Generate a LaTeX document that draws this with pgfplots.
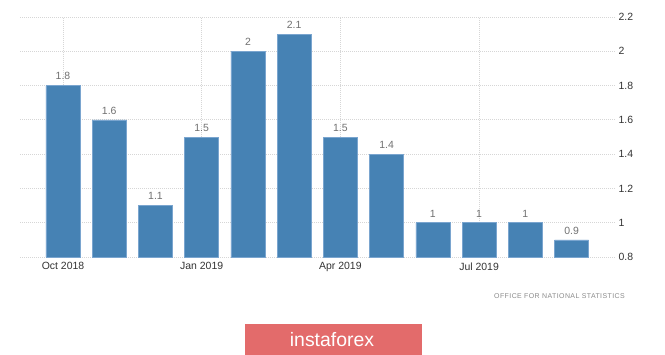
\documentclass[border=0pt]{standalone}
\usepackage{pgfplots}
\pgfplotsset{compat=1.18}
\usepackage{fontspec}
\setmainfont{Liberation Sans}
\definecolor{barblue}{HTML}{4682B4}
\definecolor{baredge}{HTML}{7AA5CF}
\definecolor{gridc}{HTML}{D6D6D6}
\definecolor{ticktext}{HTML}{333333}
\definecolor{labeltext}{HTML}{707070}
\definecolor{srctext}{HTML}{8A8A8A}
\definecolor{logored}{HTML}{E36B6B}
\begin{document}
\begin{tikzpicture}
\useasboundingbox (0bp,0bp) rectangle (665bp,-355bp);
\begin{axis}[
  at={(20bp,-257bp)}, anchor=south west,
  scale only axis, width=595bp, height=240bp,
  xmin=-0.93, xmax=11.94, ymin=0.8, ymax=2.2,
  ytick={0.8,1,1.2,1.4,1.6,1.8,2,2.2},
  yticklabel pos=right,
  xtick={0,3,6,9}, xticklabels={Oct 2018, Jan 2019, Apr 2019, Jul 2019},
  axis line style={draw=none}, major tick length=0pt,
  grid=major, grid style={gridc, dash pattern=on 1bp off 1bp, line width=0.8bp},
  /pgf/number format/assume math mode=true,
  ticklabel style={font=\fontsize{10.5}{12}\selectfont, text=ticktext},
  xticklabel style={yshift=-2bp},
  yticklabel style={xshift=0bp},
  ybar, bar width=34bp, bar shift=0pt,
  nodes near coords,
  nodes near coords style={font=\fontsize{10.5}{12}\selectfont, text=labeltext, yshift=2bp},
]
\addplot[fill=barblue, draw=baredge, line width=0.6bp] coordinates {
(0,1.8) (1,1.6) (2,1.1) (3,1.5) (4,2) (5,2.1) (6,1.5) (7,1.4) (8,1) (9,1) (10,1) (11,0.9)};
\end{axis}
\node[anchor=east, text=srctext, font=\fontsize{7}{8}\selectfont\addfontfeature{LetterSpace=6}, inner sep=0pt] at (625bp,-296bp) {OFFICE FOR NATIONAL STATISTICS};
\fill[logored] (245bp,-324bp) rectangle (422bp,-356bp);
\node[text=white, font=\fontsize{19.5}{20}\selectfont, inner sep=0pt] at (332bp,-340bp) {instaforex};
\end{tikzpicture}
\end{document}
